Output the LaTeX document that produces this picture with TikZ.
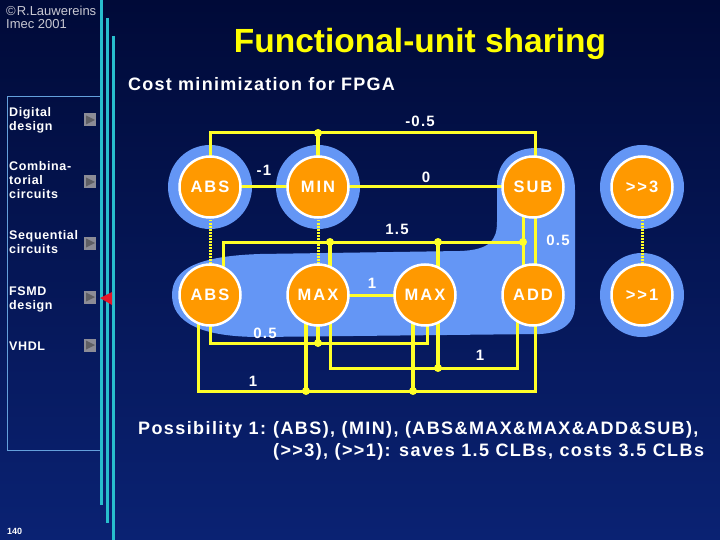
\documentclass[tikz,border=0pt]{standalone}
\usepackage{fontspec}
\setmainfont{Liberation Sans}
\newfontfamily\fufont{Liberation Sans}[LetterSpace=12]
\newfontfamily\labfont{Liberation Sans}[LetterSpace=8]
\newfontfamily\subfont{Liberation Sans}[LetterSpace=7]
\newfontfamily\botfont{Liberation Sans}[LetterSpace=7.8]
\newfontfamily\menufont{Liberation Sans}[LetterSpace=5]
\usetikzlibrary{calc}
\pgfdeclarelayer{bg}
\pgfdeclarelayer{halo}
\pgfdeclarelayer{wires}
\pgfsetlayers{bg,halo,wires,main}
\definecolor{bgtop}{RGB}{0,10,56}
\definecolor{bgbot}{RGB}{10,34,115}
\definecolor{halocol}{RGB}{100,150,245}
\definecolor{fuor}{RGB}{255,153,0}
\definecolor{wirey}{RGB}{255,255,40}
\definecolor{cyanl}{RGB}{40,190,205}
\definecolor{boxl}{RGB}{100,160,220}
\definecolor{titley}{RGB}{255,255,0}
\definecolor{copyg}{RGB}{200,200,210}
\definecolor{btngray}{RGB}{140,140,150}
\definecolor{btntri}{RGB}{95,95,100}
\definecolor{redtri}{RGB}{230,20,40}
\begin{document}
\begin{tikzpicture}[x=1pt,y=-1pt,
  fu/.style={circle, fill=fuor, draw=white, line width=2.5pt, minimum size=61pt, inner sep=0pt, text=white, font=\fufont\bfseries\fontsize{16.5}{16.5}\selectfont},
  wire/.style={draw=wirey, line width=3pt},
  branch/.style={draw=wirey, line width=4pt},
  dotw/.style={draw=wirey, line width=3pt, dash pattern=on 1.5pt off 1.5pt},
  jdot/.style={circle, fill=wirey, inner sep=0pt, minimum size=8pt},
  elab/.style={text=white, inner sep=0pt, font=\labfont\bfseries\fontsize{15}{15}\selectfont},
  menu/.style={anchor=base west, inner sep=0pt, align=left, text=white, font=\menufont\bfseries\fontsize{12.5}{14}\selectfont},
  btn/.style={rectangle, fill=btngray, minimum width=12pt, minimum height=13pt, inner sep=0pt,
    path picture={\fill[btntri] ($(path picture bounding box.north west)+(2pt,-2pt)$) -- ($(path picture bounding box.south west)+(2pt,2pt)$) -- ($(path picture bounding box.east)+(-1pt,0pt)$) -- cycle;}},
  bot/.style={anchor=base west, inner sep=0pt, text=white, font=\botfont\bfseries\fontsize{18}{18}\selectfont}
]
\begin{pgfonlayer}{bg}
\shade[top color=bgtop, bottom color=bgbot] (0,0) rectangle (720,540);
\end{pgfonlayer}
\useasboundingbox (0,0) rectangle (720,540);

% left frame
\draw[boxl, line width=1pt] (101,97) -- (7,97) -- (7,450) -- (101,450);
\draw[cyanl, line width=2.4pt] (101.5,0) -- (101.5,505);
\draw[cyanl, line width=2.4pt] (107.5,18) -- (107.5,523);
\draw[cyanl, line width=2.4pt] (113.5,36) -- (113.5,540);

\node[anchor=base west, inner sep=0pt, text=copyg, font=\fontsize{13}{13}\selectfont] (cr1) at (6,16) {©\hspace{1pt}R.Lauwereins};
\node[anchor=base west, inner sep=0pt, text=copyg, font=\fontsize{13}{13}\selectfont] (cr2) at (6,29) {Imec 2001};

% menu (base = last line)
\node[menu] (m1) at (9,131) {Digital\\design};
\node[menu] (m2) at (9,199) {Combina-\\torial\\circuits};
\node[menu] (m3) at (9,254) {Sequential\\circuits};
\node[menu] (m4) at (9,309) {FSMD\\design};
\node[menu] (m5) at (9,350) {VHDL};
\node[btn] (b1) at (90,120) {};
\node[btn] (b2) at (90,182) {};
\node[btn] (b3) at (90,243) {};
\node[btn] (b4) at (90,297) {};
\node[btn] (b5) at (90,345) {};
\fill[redtri] (100,298) -- (112,292) -- (112,305) -- cycle;

\node[anchor=base west, inner sep=0pt, text=white, font=\bfseries\fontsize{9}{9}\selectfont] (pg) at (7,534) {140};

% titles
\node[anchor=base, inner sep=0pt, text=titley, font=\bfseries\fontsize{33.5}{34}\selectfont] (title) at (420,53) {Functional-unit sharing};
\node[anchor=base west, inner sep=0pt, text=white, font=\subfont\bfseries\fontsize{18}{18}\selectfont] (subt) at (128,91) {Cost minimization for FPGA};

% functional units
\node[fu] (abs1) at (210,187) {ABS};
\node[fu] (min)  at (318,187) {MIN};
\node[fu] (sub)  at (533,187) {SUB};
\node[fu] (sh3)  at (642,187) {>>3};
\node[fu] (abs2) at (210,295) {ABS};
\node[fu] (max1) at (318,295) {MAX};
\node[fu] (max2) at (425,295) {MAX};
\node[fu] (add)  at (533,295) {ADD};
\node[fu] (sh1)  at (642,295) {>>1};

% junction dots
\node[jdot] (jmin) at (318,133) {};
\node[jdot] (j15a) at (330,242) {};
\node[jdot] (j15b) at (438,242) {};
\node[jdot] (j15c) at (523,242) {};
\node[jdot] (j05)  at (318,343) {};
\node[jdot] (j1r)  at (438,368) {};
\node[jdot] (j1a)  at (306,391) {};
\node[jdot] (j1b)  at (413,391) {};

\begin{pgfonlayer}{halo}
\fill[halocol] (abs1.center) circle (42pt);
\fill[halocol] (min.center) circle (42pt);
\fill[halocol] (sh3.center) circle (42pt);
\fill[halocol] (sh1.center) circle (42pt);
\fill[halocol] (172,295) .. controls (172,268) and (200,256) .. (260,254) -- (460,251)
  .. controls (490,250) and (497,240) .. (497,222) -- (497,185)
  .. controls (497,160) and (515,148) .. (536,148)
  .. controls (560,148) and (575,165) .. (575,190) -- (575,305)
  .. controls (575,325) and (560,333) .. (540,334) -- (260,337)
  .. controls (200,337) and (172,322) .. (172,295) -- cycle;
\end{pgfonlayer}

\begin{pgfonlayer}{wires}
% -0.5
\draw[wire] (abs1.center) |- (jmin.center) -| ([xshift=2pt]sub.center);
\draw[branch] (min.center) -- (jmin.center);
% -1, 0
\draw[wire] (abs1.center) -- (min.center);
\draw[wire] (min.center) -- (sub.center);
% dotted pairs
\draw[dotw] (abs1.center) -- (abs2.center);
\draw[dotw] (min.center) -- (max1.center);
\draw[dotw] (sh3.center) -- (sh1.center);
% 1.5
\draw[wire] ([xshift=13pt]abs2.center) |- (j15c.center);
\draw[branch] ([xshift=12pt]max1.center) -- (j15a.center);
\draw[branch] ([xshift=13pt]max2.center) -- (j15b.center);
\draw[wire] ([xshift=-10pt]sub.center) -- ([xshift=-10pt]add.center);
% 0.5 right
\draw[wire] ([xshift=2pt]sub.center) -- ([xshift=2pt]add.center);
% 1 middle
\draw[wire] (max1.center) -- (max2.center);
% 0.5 bottom
\draw[wire] (abs2.center) |- (j05.center) -| ([xshift=2pt]max2.center);
\draw[branch] (max1.center) -- (j05.center);
% 1 right
\draw[wire] ([xshift=12pt]max1.center) |- (j1r.center) -| ([xshift=-16pt]add.center);
\draw[branch] ([xshift=13pt]max2.center) -- (j1r.center);
% 1 bottom
\draw[wire] ([xshift=-12pt]abs2.center) |- (j1a.center) -| ([xshift=2pt]add.center);
\draw[branch] ([xshift=-12pt]max1.center) -- (j1a.center);
\draw[branch] ([xshift=-12pt]max2.center) -- (j1b.center);
\end{pgfonlayer}

% edge labels
\node[elab] (l1) at (420,121) {-0.5};
\node[elab] (l2) at (264,170) {-1};
\node[elab] (l3) at (426,177) {0};
\node[elab] (l4) at (397,229) {1.5};
\node[elab] (l5) at (558,240) {0.5};
\node[elab] (l6) at (372,283) {1};
\node[elab] (l7) at (265,333) {0.5};
\node[elab] (l8) at (480,355) {1};
\node[elab] (l9) at (253,381) {1};

% bottom text
\node[bot] (p1) at (138,434) {Possibility 1:};
\node[bot] (p2) at (273,434) {(ABS), (MIN), (ABS\&MAX\&MAX\&ADD\&SUB),};
\node[bot] (p3) at (273,456) {(>>3), (>>1): saves 1.5 CLBs, costs 3.5 CLBs};
\end{tikzpicture}
\end{document}
